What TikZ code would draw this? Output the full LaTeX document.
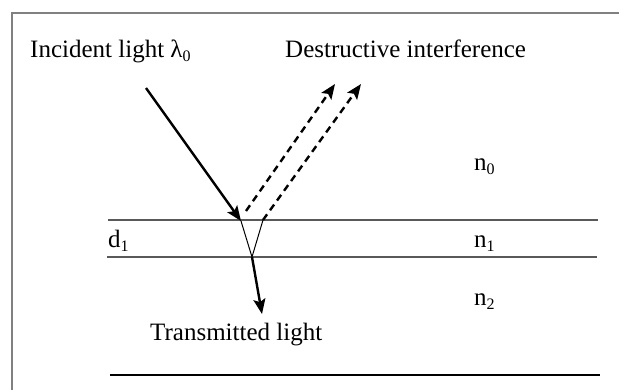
\documentclass[tikz,border=0pt]{standalone}
\usepackage{fontspec}
\setmainfont{Liberation Serif}
\usetikzlibrary{arrows.meta}
\newcommand\mysub[1]{\raisebox{-0.35ex}{\fontsize{16}{16}\selectfont #1}}
\begin{document}
\begin{tikzpicture}[x=1pt,y=-1pt,
  lbl/.style={anchor=base west,inner sep=0pt,font=\fontsize{25}{28}\selectfont},
  ray/.style={line width=2.4pt,-{Stealth[length=15pt,width=12pt,inset=3pt]}},
  dray/.style={ray,dash pattern=on 7pt off 5pt},
  iface/.style={draw=black!65,line width=2pt},
  thin/.style={line width=1pt}]
\useasboundingbox (0,0) rectangle (619,389);
% frame
\draw[draw=black!50,line width=2pt] (12,400) -- (12,13) -- (630,13);
% interfaces
\coordinate (t1) at (108,220); \coordinate (t2) at (598,220);
\coordinate (m1) at (107,257); \coordinate (m2) at (597,257);
\coordinate (b1) at (110,375); \coordinate (b2) at (600,375);
\draw[iface] (t1) -- (t2);
\draw[iface] (m1) -- (m2);
\draw[line width=1.4pt] (b1) -- (b2);
% rays
\coordinate (s) at (146,88);
\coordinate (p) at (241,221);
\coordinate (q) at (263,220);
\coordinate (r) at (252,257);
\coordinate (d1e) at (335,84);
\coordinate (d2e) at (361,84);
\coordinate (d1s) at (246,211);
\coordinate (tr) at (262,314);
\draw[ray] (s) -- (p);
\draw[dray] (d1s) -- (d1e);
\draw[dray] (q) -- (d2e);
\draw[thin] (p) -- (r) -- (q);
\draw[ray] (r) -- (tr);
% labels
\node[lbl] (inc) at (30,57) {Incident light λ\mysub{0}};
\node[lbl] (des) at (285,57) {Destructive interference};
\node[lbl] (n0) at (474,170) {n\mysub{0}};
\node[lbl] (n1) at (474,247) {n\mysub{1}};
\node[lbl] (n2) at (474,305) {n\mysub{2}};
\node[lbl] (d1) at (108,247) {d\mysub{1}};
\node[lbl] (trl) at (150,340) {Transmitted light};
\end{tikzpicture}
\end{document}
